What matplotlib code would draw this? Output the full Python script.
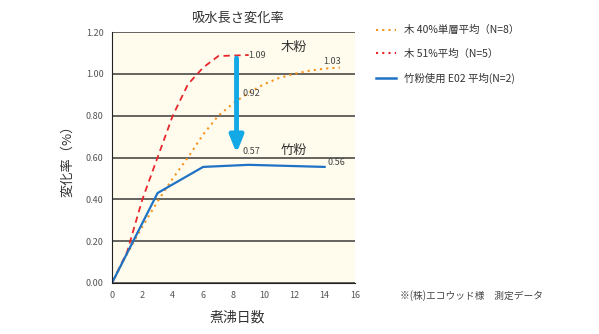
import matplotlib
matplotlib.use("Agg")
import matplotlib.pyplot as plt
from matplotlib.lines import Line2D

plt.rcParams['font.family'] = ['Noto Sans CJK JP', 'DejaVu Sans']

# data
wood40_x = [0, 1, 2, 3, 4, 5, 6, 7, 8, 9, 10, 11, 12, 13, 14, 15]
wood40_y = [0, 0.14, 0.27, 0.39, 0.50, 0.60, 0.71, 0.80, 0.86, 0.91, 0.95, 0.98, 1.00, 1.015, 1.025, 1.03]
wood51_x = [0, 1, 2, 3, 4, 5, 6, 7, 9]
wood51_y = [0, 0.15, 0.40, 0.60, 0.80, 0.95, 1.03, 1.085, 1.09]
bamboo_x = [0, 3, 6, 9, 14]
bamboo_y = [0, 0.43, 0.555, 0.565, 0.555]

labels = ["木 40%単層平均（N=8）", "木 51%平均（N=5）", "竹粉使用 E02 平均(N=2)"]
yticks = [0, 0.2, 0.4, 0.6, 0.8, 1.0, 1.2]
xticks = [0, 2, 4, 6, 8, 10, 12, 14, 16]

c_orange = '#F7941D'
c_red = '#E8262B'
c_blue = '#1F72C4'
c_arrow = '#12A9E6'

fig = plt.figure(figsize=(5.99, 3.34), dpi=100)
ax = fig.add_axes([112 / 599, 51 / 334, 243 / 599, 251 / 334])
ax.set_facecolor('#FFFCEE')

ax.plot(wood40_x, wood40_y, color=c_orange, lw=1.5, linestyle=(0, (1, 2)))
ax.plot(wood51_x, wood51_y, color=c_red, lw=1.3, linestyle=(0, (3.5, 2.5)))
ax.plot(bamboo_x, bamboo_y, color=c_blue, lw=1.6)

# arrow from wood to bamboo
ax.annotate('', xy=(8.2, 0.62), xytext=(8.2, 1.075),
            arrowprops=dict(arrowstyle='-|>,head_length=1.0,head_width=0.4',
                            color=c_arrow, lw=3.5, shrinkA=0, shrinkB=0))

ax.set_xlim(0, 16)
ax.set_ylim(0, 1.2)
ax.set_xticks(xticks)
ax.set_yticks(yticks)
ax.set_yticklabels([f"{v:.2f}" for v in yticks])
ax.tick_params(length=0, labelsize=6.5, colors='#555555', pad=6)
ax.yaxis.grid(True, color='#3a3a3a', lw=1.1)
ax.set_axisbelow(True)
for s in ['top', 'right']:
    ax.spines[s].set_visible(False)
ax.spines['left'].set_color('#222222')
ax.spines['bottom'].set_color('#222222')

txt = dict(fontsize=6.5, color='#444444', va='center')
ax.text(8.95, 1.09, '1.09', **txt)
ax.text(14.5, 1.06, '1.03', ha='center', **txt)
ax.text(8.6, 0.905, '0.92', **txt)
ax.text(8.6, 0.63, '0.57', **txt)
ax.text(14.2, 0.575, '0.56', **txt)
ax.text(12.0, 1.125, '木粉', fontsize=9.5, color='#333333', ha='center', va='center')
ax.text(12.0, 0.635, '竹粉', fontsize=9.5, color='#333333', ha='center', va='center')

fig.text(237 / 599, 1 - 18 / 334, '吸水長さ変化率', fontsize=9.5, color='#333333',
         ha='center', va='center')
fig.text(237 / 599, 1 - 318 / 334, '煮沸日数', fontsize=10, color='#333333',
         ha='center', va='center')
fig.text(68 / 599, 1 - 158 / 334, '変化率（%）', fontsize=9.5, color='#333333',
         ha='center', va='center', rotation=90)
fig.text(400 / 599, 1 - 296 / 334, '※(株)エコウッド様　測定データ', fontsize=7,
         color='#444444', ha='left', va='center')

handles = [Line2D([], [], color=c_orange, lw=1.5, linestyle=(0, (1, 2))),
           Line2D([], [], color=c_red, lw=1.5, linestyle=(0, (1, 2))),
           Line2D([], [], color=c_blue, lw=1.8)]
fig.legend(handles, labels, loc='upper left', bbox_to_anchor=(367 / 599, 1 - 16 / 334),
           frameon=False, fontsize=7.5, handlelength=1.9, labelspacing=1.3,
           handletextpad=0.8, labelcolor='#333333')

fig.savefig('out.png', dpi=100)
